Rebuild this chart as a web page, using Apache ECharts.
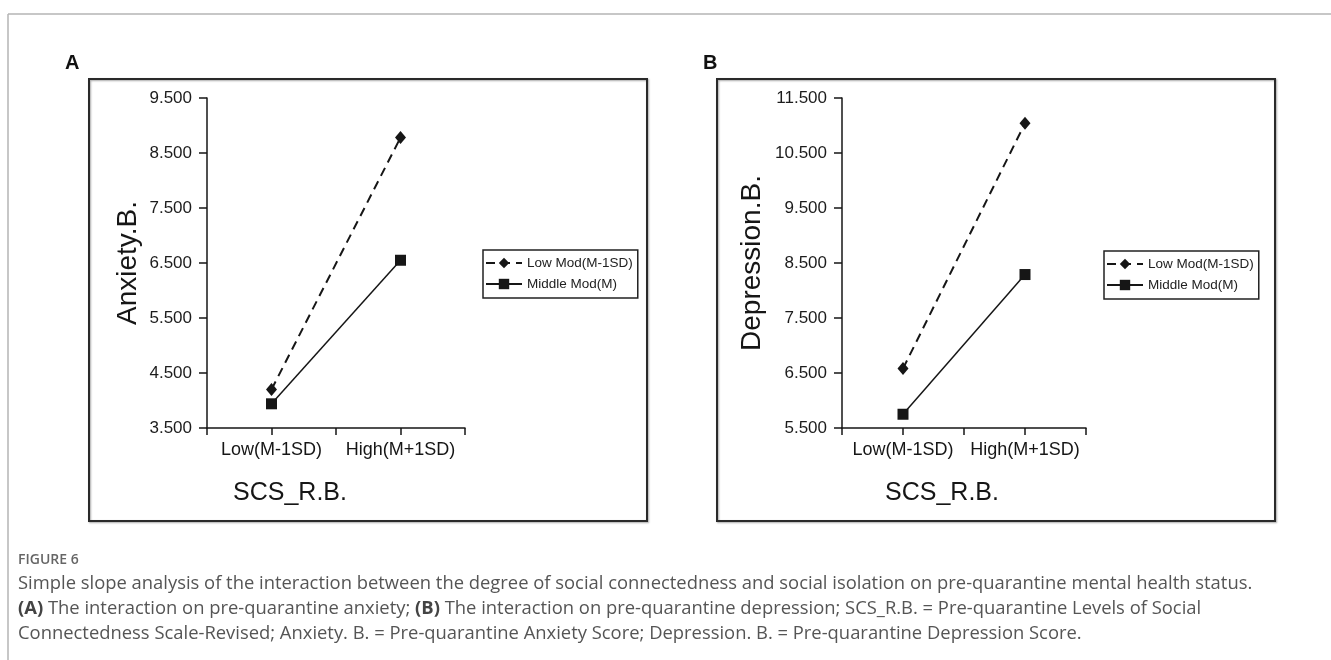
<!DOCTYPE html>
<html>
<head>
<meta charset="utf-8">
<script src="https://cdn.jsdelivr.net/npm/echarts@6/dist/echarts.min.js"></script>
<style>
html,body{margin:0;padding:0;background:#fff;}
#c{width:1331px;height:660px;}
</style>
</head>
<body>
<div id="c"></div>
<script>
// ---- data ----
const categories = ['Low(M-1SD)', 'High(M+1SD)'];
const seriesNames = ['Low Mod(M-1SD)', 'Middle Mod(M)'];
const anxietyLowMod = [4.20, 8.78];
const anxietyMiddleMod = [3.94, 6.55];
const depressionLowMod = [6.58, 11.04];
const depressionMiddleMod = [5.75, 8.29];
const anxietyRange = [3.5, 9.5];
const depressionRange = [5.5, 11.5];
const panelLabels = ['A', 'B'];
const yNames = ['Anxiety.B.', 'Depression.B.'];
const xName = 'SCS_R.B.';
const captionTitle = 'FIGURE 6';
const captionLines = [
  'Simple slope analysis of the interaction between the degree of social connectedness and social isolation on pre-quarantine mental health status.',
  '{b|(A)} The interaction on pre-quarantine anxiety; {b|(B)} The interaction on pre-quarantine depression; SCS_R.B. = Pre-quarantine Levels of Social',
  'Connectedness Scale-Revised; Anxiety. B. = Pre-quarantine Anxiety Score; Depression. B. = Pre-quarantine Depression Score.'
];

// x axis slots: ticks at axis start, Low, mid, High, end
const xSlots = ['', categories[0], ' ', categories[1], '  '];
const pairs = (vals) => categories.map((c, i) => [c, vals[i]]);

const FONT = 'Liberation Sans, Arial, sans-serif';
const CAP = '"Open Sans", Lato, sans-serif';
const ink = '#161616';

function xAxisCfg(gridIndex, shift) {
  return {
    type: 'category', gridIndex, data: xSlots, boundaryGap: false,
    axisLine: {lineStyle: {color: ink, width: 1.5}},
    axisTick: {show: true, length: 7, interval: 0, lineStyle: {color: ink, width: 1.5}},
    axisLabel: {interval: 0, margin: 13, fontSize: 18, color: ink, fontFamily: FONT},
    splitLine: {show: false},
    name: xName, nameLocation: 'middle', nameGap: 53,
    nameTextStyle: {fontSize: 25, color: ink, fontFamily: FONT, padding: [0, shift, 0, 0]}
  };
}
function yAxisCfg(gridIndex, range, name, gap) {
  return {
    type: 'value', gridIndex, min: range[0], max: range[1], interval: 1,
    axisLine: {show: true, lineStyle: {color: ink, width: 1.5}},
    axisTick: {show: true, length: 8, lineStyle: {color: ink, width: 1.5}},
    axisLabel: {margin: 15, fontSize: 17, color: '#1c1c1c', fontFamily: FONT, formatter: v => v.toFixed(3)},
    splitLine: {show: false},
    name, nameLocation: 'middle', nameGap: gap,
    nameTextStyle: {fontSize: 28, color: ink, fontFamily: FONT}
  };
}
function lowSeries(name, xi, data) {
  return {
    type: 'line', name, xAxisIndex: xi, yAxisIndex: xi, data,
    symbol: 'diamond', symbolSize: [11, 13],
    lineStyle: {color: ink, width: 2, type: [9, 6]},
    itemStyle: {color: ink}, silent: true, z: 3
  };
}
function midSeries(name, xi, data) {
  return {
    type: 'line', name, xAxisIndex: xi, yAxisIndex: xi, data,
    symbol: 'rect', symbolSize: 11,
    lineStyle: {color: ink, width: 1.5, type: 'solid'},
    itemStyle: {color: ink}, silent: true, z: 3
  };
}
function legendCfg(left, top) {
  return {
    left, top, orient: 'vertical', data: seriesNames,
    itemWidth: 36, itemHeight: 13, itemGap: 7,
    padding: [6, 5, 7, 2],
    borderColor: '#222', borderWidth: 1.5,
    textStyle: {fontSize: 13.5, color: '#222', fontFamily: FONT},
    selectedMode: false
  };
}

function boxRect(x, y, w, h) {
  return {
    type: 'rect', shape: {x, y, width: w, height: h}, silent: true, z: -1,
    style: {fill: 'none', stroke: '#2a2a2a', lineWidth: 2, shadowBlur: 2, shadowColor: 'rgba(0,0,0,0.35)', shadowOffsetX: 1, shadowOffsetY: 1}
  };
}

const option = {
  backgroundColor: '#fff',
  animation: false,
  grid: [
    {left: 207, top: 98, width: 258, height: 330},
    {left: 842, top: 98, width: 244, height: 330}
  ],
  xAxis: [xAxisCfg(0, 92), xAxisCfg(1, 44)],
  yAxis: [yAxisCfg(0, anxietyRange, yNames[0], 65), yAxisCfg(1, depressionRange, yNames[1], 76)],
  legend: [legendCfg(483, 250), legendCfg(1104, 251)],
  series: [
    lowSeries(seriesNames[0], 0, pairs(anxietyLowMod)),
    midSeries(seriesNames[1], 0, pairs(anxietyMiddleMod)),
    lowSeries(seriesNames[0], 1, pairs(depressionLowMod)),
    midSeries(seriesNames[1], 1, pairs(depressionMiddleMod))
  ],
  graphic: [
    {type: 'line', shape: {x1: 8, y1: 14, x2: 1331, y2: 14}, style: {stroke: '#b5b5b5', lineWidth: 1.5}, silent: true},
    {type: 'line', shape: {x1: 8, y1: 14, x2: 8, y2: 660}, style: {stroke: '#b5b5b5', lineWidth: 1.5}, silent: true},
    boxRect(89, 79, 558, 442),
    boxRect(717, 79, 558, 442),
    {type: 'text', x: 65, y: 53, silent: true, style: {text: panelLabels[0], font: 'bold 20px ' + FONT, fill: '#111'}},
    {type: 'text', x: 703, y: 53, silent: true, style: {text: panelLabels[1], font: 'bold 20px ' + FONT, fill: '#111'}},
    {type: 'text', x: 18, y: 553, silent: true, style: {text: captionTitle, font: '600 14px ' + CAP, fill: '#666'}},
    ...captionLines.map((t, i) => ({
      type: 'text', x: 18, y: 575 + i * 25, silent: true,
      style: {
        text: t, font: '18.4px ' + CAP, fill: '#555',
        rich: {b: {font: 'bold 18.4px ' + CAP, fill: '#444'}}
      }
    }))
  ]
};

const chart = echarts.init(document.getElementById('c'), null, {renderer: 'canvas'});
chart.setOption(option);
</script>
</body>
</html>
